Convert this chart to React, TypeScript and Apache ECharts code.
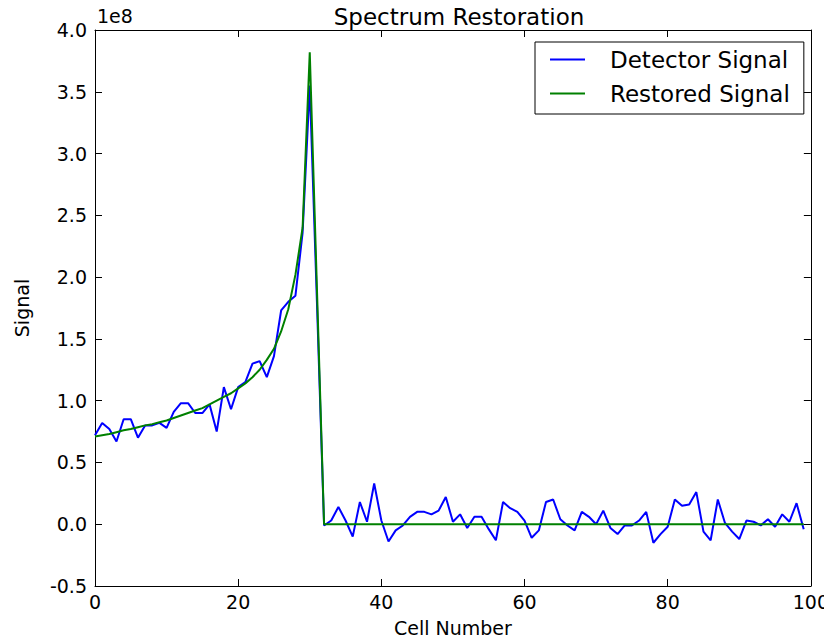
import React, { useEffect, useRef } from "react";
import * as echarts from "echarts";

// values in units of 1e8
const detectorSignal: number[] = [
  0.72, 0.82, 0.77, 0.67, 0.85, 0.85, 0.70, 0.80, 0.80, 0.82,
  0.78, 0.91, 0.98, 0.98, 0.90, 0.90, 0.97, 0.75, 1.11, 0.93,
  1.11, 1.15, 1.30, 1.32, 1.19, 1.36, 1.73, 1.80, 1.85, 2.36,
  3.55, 1.80, -0.01, 0.03, 0.14, 0.03, -0.10, 0.18, 0.02, 0.33,
  0.03, -0.14, -0.05, -0.01, 0.06, 0.10, 0.10, 0.08, 0.11, 0.22,
  0.02, 0.08, -0.03, 0.06, 0.06, -0.04, -0.13, 0.18, 0.13, 0.10,
  0.03, -0.11, -0.05, 0.18, 0.20, 0.04, -0.01, -0.05, 0.10, 0.06,
  0.00, 0.11, -0.03, -0.08, -0.01, -0.01, 0.03, 0.10, -0.15, -0.08,
  -0.02, 0.20, 0.15, 0.16, 0.26, -0.06, -0.13, 0.20, 0.01, -0.06,
  -0.12, 0.03, 0.02, -0.01, 0.04, -0.02, 0.08, 0.02, 0.17, -0.04,
];

const restoredSignal: number[] = [
  0.71, 0.72, 0.73, 0.745, 0.76, 0.77, 0.785, 0.80, 0.81, 0.825,
  0.84, 0.86, 0.88, 0.90, 0.92, 0.94, 0.97, 1.00, 1.03, 1.06,
  1.10, 1.14, 1.19, 1.25, 1.33, 1.42, 1.56, 1.74, 2.02, 2.40,
  3.82, 1.91, 0, 0, 0, 0, 0, 0, 0, 0,
  0, 0, 0, 0, 0, 0, 0, 0, 0, 0,
  0, 0, 0, 0, 0, 0, 0, 0, 0, 0,
  0, 0, 0, 0, 0, 0, 0, 0, 0, 0,
  0, 0, 0, 0, 0, 0, 0, 0, 0, 0,
  0, 0, 0, 0, 0, 0, 0, 0, 0, 0,
  0, 0, 0, 0, 0, 0, 0, 0, 0, 0,
];

const seriesNames = ["Detector Signal", "Restored Signal"];
const xTicks = { min: 0, max: 100, interval: 20 };
const yTicks = { min: -0.5, max: 4.0, interval: 0.5 };

const FONT = "DejaVu Sans";

export default function App() {
  const ref = useRef<HTMLDivElement>(null);
  useEffect(() => {
    if (!ref.current) return;
    const chart = echarts.init(ref.current, undefined, { renderer: "svg" });
    const toPairs = (arr: number[]) => arr.map((v, i) => [i, v]);
    const axisCommon = {
      axisLine: { show: true, onZero: false, lineStyle: { color: "#000", width: 1 } },
      axisTick: { show: true, inside: true, length: 7, lineStyle: { color: "#000" } },
      splitLine: { show: false },
    };
    chart.setOption({
      animation: false,
      backgroundColor: "#fff",
      textStyle: { fontFamily: FONT },
      title: {
        text: "Spectrum Restoration",
        left: 454,
        textAlign: "center",
        top: 0,
        textStyle: { fontFamily: FONT, fontSize: 23, fontWeight: "normal", color: "#000" },
      },
      grid: { left: 95, top: 30, right: 19, bottom: 58, containLabel: false },
      legend: {
        left: 535,
        top: 42,
        orient: "vertical",
        borderColor: "#000",
        borderWidth: 1,
        padding: [6, 14, 9, 15],
        itemGap: 11,
        itemWidth: 35,
        itemHeight: 2,
        icon: "rect",
        data: seriesNames,
        textStyle: { fontFamily: FONT, fontSize: 23, color: "#000", padding: [0, 0, 0, 20] },
      },
      xAxis: [
        {
          type: "value",
          min: xTicks.min,
          max: xTicks.max,
          interval: xTicks.interval,
          name: "Cell Number",
          nameLocation: "middle",
          nameGap: 32,
          nameTextStyle: { fontFamily: FONT, fontSize: 19, color: "#000" },
          axisLabel: { fontFamily: FONT, fontSize: 19, color: "#000", margin: 6 },
          ...axisCommon,
        },
        {
          type: "value",
          position: "top",
          min: xTicks.min,
          max: xTicks.max,
          interval: xTicks.interval,
          axisLabel: { show: false },
          ...axisCommon,
        },
      ],
      yAxis: [
        {
          type: "value",
          min: yTicks.min,
          max: yTicks.max,
          interval: yTicks.interval,
          name: "Signal",
          nameLocation: "middle",
          nameGap: 64,
          nameTextStyle: { fontFamily: FONT, fontSize: 19, color: "#000" },
          axisLabel: {
            fontFamily: FONT,
            fontSize: 19,
            color: "#000",
            margin: 8,
            formatter: (v: number) => v.toFixed(1),
          },
          ...axisCommon,
        },
        {
          type: "value",
          position: "right",
          min: yTicks.min,
          max: yTicks.max,
          interval: yTicks.interval,
          axisLabel: { show: false },
          ...axisCommon,
        },
      ],
      graphic: [
        {
          type: "text",
          left: 97,
          top: 6,
          style: { text: "1e8", fontFamily: FONT, fontSize: 19, fill: "#000" },
        },
      ],
      series: [
        {
          name: seriesNames[0],
          type: "line",
          data: toPairs(detectorSignal),
          symbol: "none",
          lineStyle: { color: "#0000ff", width: 2 },
          itemStyle: { color: "#0000ff" },
          z: 2,
        },
        {
          name: seriesNames[1],
          type: "line",
          data: toPairs(restoredSignal),
          symbol: "none",
          lineStyle: { color: "#008000", width: 2 },
          itemStyle: { color: "#008000" },
          z: 3,
        },
      ],
    });
    return () => chart.dispose();
  }, []);
  return <div ref={ref} style={{ width: 832, height: 644, margin: -8 }} />;
}
